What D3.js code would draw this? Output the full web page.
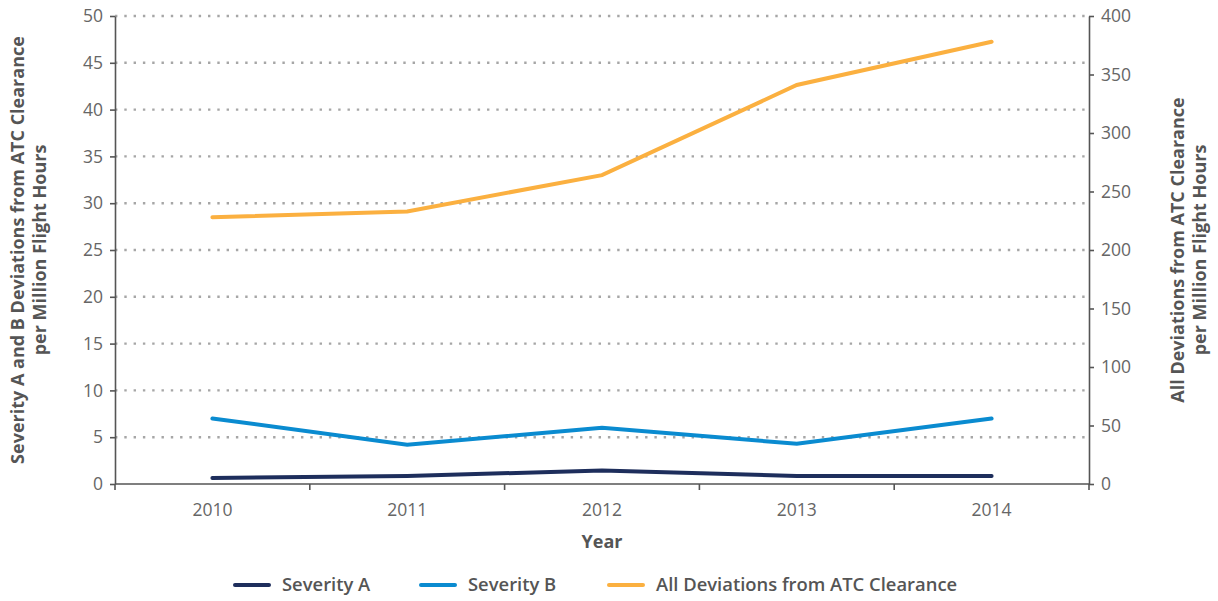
<!DOCTYPE html>
<html><head><meta charset="utf-8">
<script src="https://cdn.jsdelivr.net/npm/d3@7"></script>
<style>body{margin:0;background:#fff;} svg{display:block;font-family:"Open Sans",sans-serif;}</style>
</head><body><svg id="c" width="1218" height="601"></svg>
<script>
const years = ["2010","2011","2012","2013","2014"];
const severityA = [0.65, 0.85, 1.45, 0.85, 0.85];
const severityB = [7.0, 4.2, 6.0, 4.3, 7.0];
const allDeviations = [228, 233, 264, 341, 378];
const leftTicks = [0,5,10,15,20,25,30,35,40,45,50];
const rightTicks = [0,50,100,150,200,250,300,350,400];
const seriesNames = ["Severity A","Severity B","All Deviations from ATC Clearance"];
const colors = ["#1e2e5c","#0a8bd0","#fbb040"];

const svg = d3.select("#c");
const L = 115, R = 1089, T = 16, B = 484;
const x = d3.scaleBand().domain(years).range([L,R]);
const yL = d3.scaleLinear().domain([0,50]).range([B,T]);
const yR = d3.scaleLinear().domain([0,400]).range([B,T]);

// grid
svg.append("g").selectAll("line").data(leftTicks.filter(d=>d>0)).join("line")
  .attr("x1",L).attr("x2",R).attr("y1",d=>yL(d)).attr("y2",d=>yL(d))
  .attr("stroke","#a6a6a6").attr("stroke-width",2.4).attr("stroke-dasharray","2.4,6.9");

const axisColor = "#555";
const tickColor = "#666";
function style(g){
  g.select(".domain").attr("stroke",axisColor).attr("stroke-width",1.6);
  g.selectAll(".tick line").attr("stroke",axisColor).attr("stroke-width",1.6);
  g.selectAll(".tick text").attr("fill",tickColor).attr("font-size",17.5).attr("font-family","'Open Sans',sans-serif").attr("font-weight",400);
}
svg.append("g").attr("transform",`translate(${L},0)`)
  .call(d3.axisLeft(yL).tickValues(leftTicks).tickSize(5).tickPadding(7).tickSizeOuter(0)).call(style);
svg.append("g").attr("transform",`translate(${R},0)`)
  .call(d3.axisRight(yR).tickValues(rightTicks).tickSize(5).tickPadding(7).tickSizeOuter(0)).call(style);
// x axis with ticks at band boundaries
const xg = svg.append("g").attr("transform",`translate(0,${B})`);
xg.append("line").attr("x1",L).attr("x2",R).attr("stroke",axisColor).attr("stroke-width",1.6);
const bounds = years.map(d=>x(d)).concat([R]);
xg.selectAll("line.t").data(bounds).join("line").attr("class","t")
  .attr("x1",d=>d).attr("x2",d=>d).attr("y1",0).attr("y2",6).attr("stroke",axisColor).attr("stroke-width",1.6);
xg.selectAll("text").data(years).join("text")
  .attr("x",d=>x(d)+x.bandwidth()/2).attr("y",32).attr("text-anchor","middle")
  .attr("fill",tickColor).attr("font-size",17.5).attr("font-weight",400).text(d=>d);

// lines
const cx = d=>x(d)+x.bandwidth()/2;
function drawLine(vals, scale, color){
  svg.append("path").datum(vals)
    .attr("d", d3.line().x((v,i)=>cx(years[i])).y(v=>scale(v)))
    .attr("fill","none").attr("stroke",color).attr("stroke-width",4).attr("stroke-linecap","round");
}
drawLine(severityA, yL, colors[0]);
drawLine(severityB, yL, colors[1]);
drawLine(allDeviations, yR, colors[2]);

// titles
const tc = "#555";
svg.append("text").attr("x",(L+R)/2).attr("y",548).attr("text-anchor","middle")
  .attr("fill",tc).attr("font-size",18).attr("font-weight",700).text("Year");
const lt = svg.append("text").attr("transform","translate(24,250) rotate(-90)")
  .attr("text-anchor","middle").attr("fill",tc).attr("font-size",18).attr("font-weight",700);
lt.append("tspan").attr("x",0).attr("dy",0).text("Severity A and B Deviations from ATC Clearance");
lt.append("tspan").attr("x",0).attr("dy",22).text("per Million Flight Hours");
const rt = svg.append("text").attr("transform","translate(1184,250) rotate(-90)")
  .attr("text-anchor","middle").attr("fill",tc).attr("font-size",18).attr("font-weight",700);
rt.append("tspan").attr("x",0).attr("dy",0).text("All Deviations from ATC Clearance");
rt.append("tspan").attr("x",0).attr("dy",22).text("per Million Flight Hours");

// legend
const legX = [235, 421, 609];
const lg = svg.append("g");
seriesNames.forEach((n,i)=>{
  lg.append("line").attr("x1",legX[i]).attr("x2",legX[i]+34).attr("y1",585).attr("y2",585)
    .attr("stroke",colors[i]).attr("stroke-width",4).attr("stroke-linecap","round");
  lg.append("text").attr("x",legX[i]+47).attr("y",591).attr("fill",tc)
    .attr("font-size",18.4).attr("font-weight",600).text(n);
});
</script></body></html>
